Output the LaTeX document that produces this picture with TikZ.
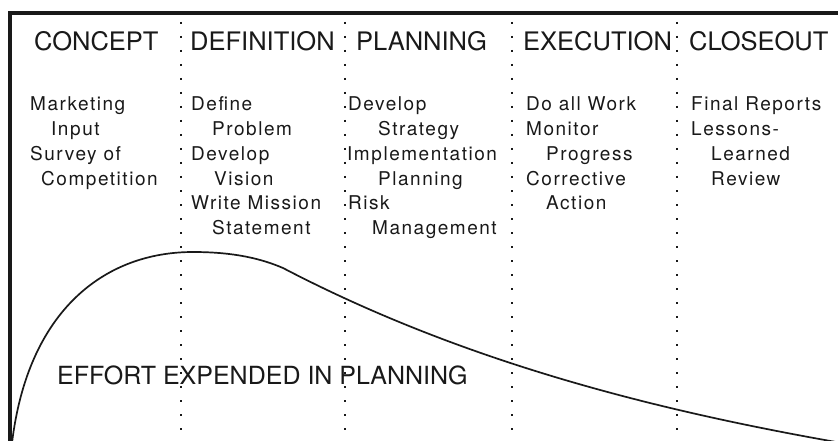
\documentclass[tikz,border=0pt]{standalone}
\usepackage{fontspec}
\setmainfont{TeX Gyre Heros}
\newfontfamily\bodyfont[LetterSpace=8]{TeX Gyre Heros}
\begin{document}
\begin{tikzpicture}[x=1pt,y=-1pt,
  head/.style={anchor=base west,inner sep=0pt,font=\fontsize{25.5}{25.5}\selectfont,text=black!90},
  body/.style={anchor=base west,inner sep=0pt,font=\bodyfont\fontsize{19}{19}\selectfont,text=black!90},
  big/.style={anchor=base west,inner sep=0pt,font=\fontsize{25}{25}\selectfont,text=black!90},
  sep/.style={line width=1.9pt,dash pattern=on 1.9pt off 12.1pt,black!90},
  frame/.style={line width=4pt,black!90},
  curve/.style={line width=1.7pt,black!90}]
\useasboundingbox (0,0) rectangle (838,441);
\begin{scope}
\clip (0,0) rectangle (838,441);
% frame
\coordinate (tl) at (10,13);
\coordinate (tr) at (840,13);
\coordinate (bl) at (10,443);
\draw[frame] (tr) -- (tl) -- (bl);
% separators
\foreach \x/\n in {181/a,345/b,512/c,677/d}{
  \coordinate (s\n t) at (\x,22);
  \coordinate (s\n b) at (\x,445);
  \draw[sep] (s\n t) -- (s\n b);
}
% curve
\coordinate (c0) at (12,443);
\coordinate (c1) at (193,252);
\coordinate (c2) at (283,268);
\coordinate (c3) at (836,442);
\draw[curve] (c0) .. controls (28,310) and (105,252) .. (c1)
  .. controls (235,252) and (262,259) .. (c2)
  .. controls (463,362) and (655,410) .. (c3);
\end{scope}
% headers
\node[head] (h1) at (34,51) {CONCEPT};
\node[head] (h2) at (190,51) {DEFINITION};
\node[head] (h3) at (356,51) {PLANNING};
\node[head] (h4) at (523,51) {EXECUTION};
\node[head] (h5) at (689,51) {CLOSEOUT};
% column 1
\node[body] (a1) at (30,111) {Marketing};
\node[body] (a2) at (51,135.7) {Input};
\node[body] (a3) at (30,160.4) {Survey of};
\node[body] (a4) at (41,185.1) {Competition};
% column 2
\node[body] (b1) at (191,111) {Define};
\node[body] (b2) at (212,135.7) {Problem};
\node[body] (b3) at (191,160.4) {Develop};
\node[body] (b4) at (214,185.1) {Vision};
\node[body] (b5) at (191,209.8) {Write Mission};
\node[body] (b6) at (212,234.5) {Statement};
% column 3
\node[body] (p1) at (348,111) {Develop};
\node[body] (p2) at (378,135.7) {Strategy};
\node[body] (p3) at (347,160.4) {Implementation};
\node[body] (p4) at (378,185.1) {Planning};
\node[body] (p5) at (348,209.8) {Risk};
\node[body] (p6) at (372,234.5) {Management};
% column 4
\node[body] (e1) at (526,111) {Do all Work};
\node[body] (e2) at (526,135.7) {Monitor};
\node[body] (e3) at (546,160.4) {Progress};
\node[body] (e4) at (526,185.1) {Corrective};
\node[body] (e5) at (546,209.8) {Action};
% column 5
\node[body] (f1) at (691,111) {Final Reports};
\node[body] (f2) at (691,135.7) {Lessons-};
\node[body] (f3) at (711,160.4) {Learned};
\node[body] (f4) at (711,185.1) {Review};
% label
\node[big] (lab) at (57,384) {EFFORT EXPENDED IN PLANNING};
\end{tikzpicture}
\end{document}
